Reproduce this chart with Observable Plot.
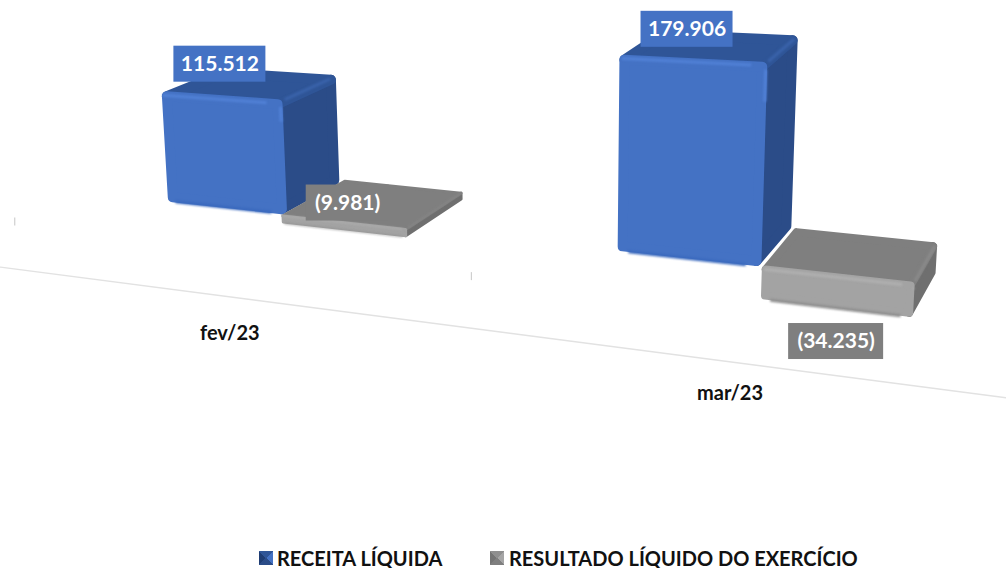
<!DOCTYPE html>
<html><head><meta charset="utf-8">
<script src="https://cdn.jsdelivr.net/npm/d3@7"></script>
<script src="https://cdn.jsdelivr.net/npm/@observablehq/plot@0.6"></script>
<style>
html,body{margin:0;padding:0;background:#fff;width:1006px;height:568px;overflow:hidden}
#legend{position:relative;height:28px;font:700 20px Lato,sans-serif;color:#111}
#legend span{position:absolute;top:4px;line-height:28px;white-space:nowrap}
#legend i{position:absolute;top:11px;width:14px;height:14px}
svg{display:block}
</style></head><body>
<div id="chart"></div>
<div id="legend"></div>
<script>
// ---- data
const categories = ["fev/23", "mar/23"];
const seriesNames = ["RECEITA LÍQUIDA", "RESULTADO LÍQUIDO DO EXERCÍCIO"];
const receitaLiquida = [115512, 179906];
const resultadoLiquido = [-9981, -34235];

// ---- camera: floor-plane corners of the 3D scene and how value height maps to screen
const W = 1006, H = 540;
const floorCorners = [[160,202],[908,285],[935,238],[232,167]];
const sceneUnits = 5.5, categoryStep = 3.53, uWarp = 0;
const [p0,p1,p2,p3] = floorCorners;
const hom = (() => {
  const dx1=p1[0]-p2[0], dx2=p3[0]-p2[0], sx=p0[0]-p1[0]+p2[0]-p3[0];
  const dy1=p1[1]-p2[1], dy2=p3[1]-p2[1], sy=p0[1]-p1[1]+p2[1]-p3[1];
  const den=dx1*dy2-dx2*dy1, g=(sx*dy2-dx2*sy)/den, h=(dx1*sy-sx*dy1)/den;
  return {a:p1[0]-p0[0]+g*p1[0], b:p3[0]-p0[0]+h*p3[0], c:p0[0],
          d:p1[1]-p0[1]+g*p1[1], e:p3[1]-p0[1]+h*p3[1], f:p0[1], g, h};
})();
function project(u, d, v) {           // u along the axis, d depth, v value
  const s=(u+uWarp*u*(u-sceneUnits))/sceneUnits, w=hom.g*s+hom.h*d+1;
  const x=(hom.a*s+hom.b*d+hom.c)/w, y=(hom.d*s+hom.e*d+hom.f)/w;
  const k=(0.935+0.00033*(x-160)-0.075*d)*(v<0?0.9:1);
  const px=v/1000*k;
  return [x+(x-560)*0.00015*px, y-px];
}

// ---- palettes
const palettes = [
  {front:"#4472c4", top:"#2f5597", side:"#2b4c88", edge:"#5181d6", base:"#3a69bd", ridge:"#3a63ab"},
  {front:"#a3a3a3", top:"#7f7f7f", side:"#6f6f6f", edge:"#b0b0b0", base:"#8e8e8e", ridge:"#8a8a8a"}
];
const seriesValues = [receitaLiquida, resultadoLiquido];
const radii = [5, 4, 1.5];

// ---- build faces from the values
const faces=[], edges=[], labels=[];
seriesValues.forEach((vals,si)=>vals.forEach((v,ci)=>{
  const u0=ci*categoryStep+si, u1=u0+1, pal=palettes[si];
  const hi=Math.max(v,0), lo=Math.min(v,0);
  const r = Math.abs(v)<15000?radii[2]:si?radii[1]:radii[0];
  const iu=r/130, id=r/48, ih=r*1000;
  const P=project;
  const key=`${ci}-${si}`;
  const poly=(name,fill,pts)=>pts.forEach(p=>faces.push({z:key+name,x:p[0],y:p[1],fill,r,si}));
  const a=u0+iu,b=u1-iu,n=id,f=1-id,t=hi-ih,l=lo+ih*(si?1.1:0.4);
  poly("s",pal.side,[P(b,n,t),P(b,f,t),P(b,f,l),P(b,n,l)]);
  poly("t",pal.top,[P(a,n,t),P(b,n,t),P(b,f,t),P(a,f,t)]);
  poly("f",pal.front,[P(a,n,t),P(b,n,t),P(b,n,l),P(a,n,l)]);
  const seg=(name,stroke,A,B)=>[A,B].forEach(p=>edges.push({z:key+name,x:p[0],y:p[1],stroke,si,r}));
  const e=iu*1.5, eh=ih*0.45;
  seg("e1",pal.edge,P(a,id*0.5,hi-eh),P(b-e,id*0.5,hi-eh));
  seg("e2",pal.edge,P(u1-iu*0.4,id,hi-ih*1.5),P(u1-iu*0.4,id,lo+(hi-lo)*0.8));
  seg("e3",pal.ridge,P(u1-iu*0.4,id*1.6,hi-eh),P(u1-iu*0.4,1-id*1.5,hi-eh));
  seg("e4",pal.base,P(a+e,id*0.5,l-ih*0.4),P(b-e,id*0.5,l-ih*0.4));
  const c=project(u0+0.5,0.5,Math.max(v,0));
  const fmt=d3.format(",")(Math.abs(v)).replace(/,/g,".");
  labels.push({text:v<0?`(${fmt})`:fmt, cat:ci, si, cx:c[0], cy:c[1]});
}));

// ---- label placement relative to the bar anchor
const labelOffsets = {"0-0":[-30,-19],"1-0":[-23,-15],"0-1":[-26,0],"1-1":[-15,88]};
const labelFill = ["#4472c4","#7f7f7f"];
labels.forEach(l=>{
  const o=labelOffsets[`${l.cat}-${l.si}`]; l.x=l.cx+o[0]; l.y=l.cy+o[1];
  l.hw=l.text.startsWith("(9")?41.5:l.si?47.5:46; l.hh=18;
  l.fill=labelFill[l.si];
});

// ---- axis line, category ticks and names, on the floor in front of the bars
const tickDepth=-0.75, nameDepth=-0.68, tickStep=3.56;
const axisPts=[project(-0.17,-1.6,0),project(7.4,-1.58,0)].map(p=>({x:p[0],y:p[1]}));
const ticks=categories.map((c,i)=>{const p=project(i*tickStep-0.72,tickDepth,0);return {x:p[0],y:p[1]};});
const catLabels=categories.map((c,i)=>{const p=project(i*categoryStep+1,nameDepth,0);return {text:c,x:p[0]+1,y:p[1]+90};});

const font="Lato, sans-serif";
const softBars=[];
radii.forEach(r=>{
  softBars.push(Plot.line(faces.filter(d=>d.r===r),{x:"x",y:"y",z:"z",curve:"linear-closed",fill:"fill",stroke:"fill",strokeWidth:2*r,strokeLinejoin:"round",imageFilter:"blur(0.5px)"}));
  softBars.push(Plot.line(edges.filter(d=>d.r===r),{x:"x",y:"y",z:"z",stroke:"stroke",strokeWidth:Math.min(3,r*0.8),strokeLinecap:"butt",imageFilter:"blur(1.2px)"}));
});
const plot=Plot.plot({
  width:W,height:H,margin:0,
  x:{domain:[0,W],range:[0,W],axis:null},
  y:{domain:[0,H],range:[0,H],axis:null},
  color:{type:"identity"},
  marks:[
    Plot.line(axisPts,{x:"x",y:"y",stroke:"#e2e2e2",strokeWidth:1.4}),
    Plot.ruleX(ticks,{x:"x",y1:d=>d.y-4,y2:d=>d.y+4,stroke:"#cfcfcf",strokeWidth:1.2}),
    ...softBars,
    Plot.rect(labels,{x1:d=>d.x-d.hw,x2:d=>d.x+d.hw,y1:d=>d.y-d.hh,y2:d=>d.y+d.hh,fill:"fill"}),
    Plot.text(labels,{x:"x",y:"y",text:"text",fill:"#fff",fontSize:21,fontWeight:700,fontFamily:font}),
    Plot.text(catLabels,{x:"x",y:"y",text:"text",fill:"#111",fontSize:20,fontWeight:700,fontFamily:font})
  ]
});
document.getElementById("chart").append(plot);

// ---- legend below the svg
const lg=document.getElementById("legend");
const legendLayout=[{sw:259,tx:277},{sw:490,tx:509}];
const swatches=[["#2f5597","#4472c4","#2b4c88","#1f3d73"],["#8f8f8f","#a5a5a5","#7f7f7f","#747474"]];
seriesNames.forEach((n,i)=>{
  const [t,r,b,l]=swatches[i];
  const sw=document.createElement("i");
  sw.style.left=legendLayout[i].sw+"px";
  sw.style.background=`conic-gradient(${t} 0 45deg,${r} 45deg 135deg,${b} 135deg 225deg,${l} 225deg 315deg,${t} 315deg)`;
  const s=document.createElement("span");
  s.style.left=legendLayout[i].tx+"px"; s.textContent=n;
  lg.append(sw,s);
});
</script>
</body></html>
